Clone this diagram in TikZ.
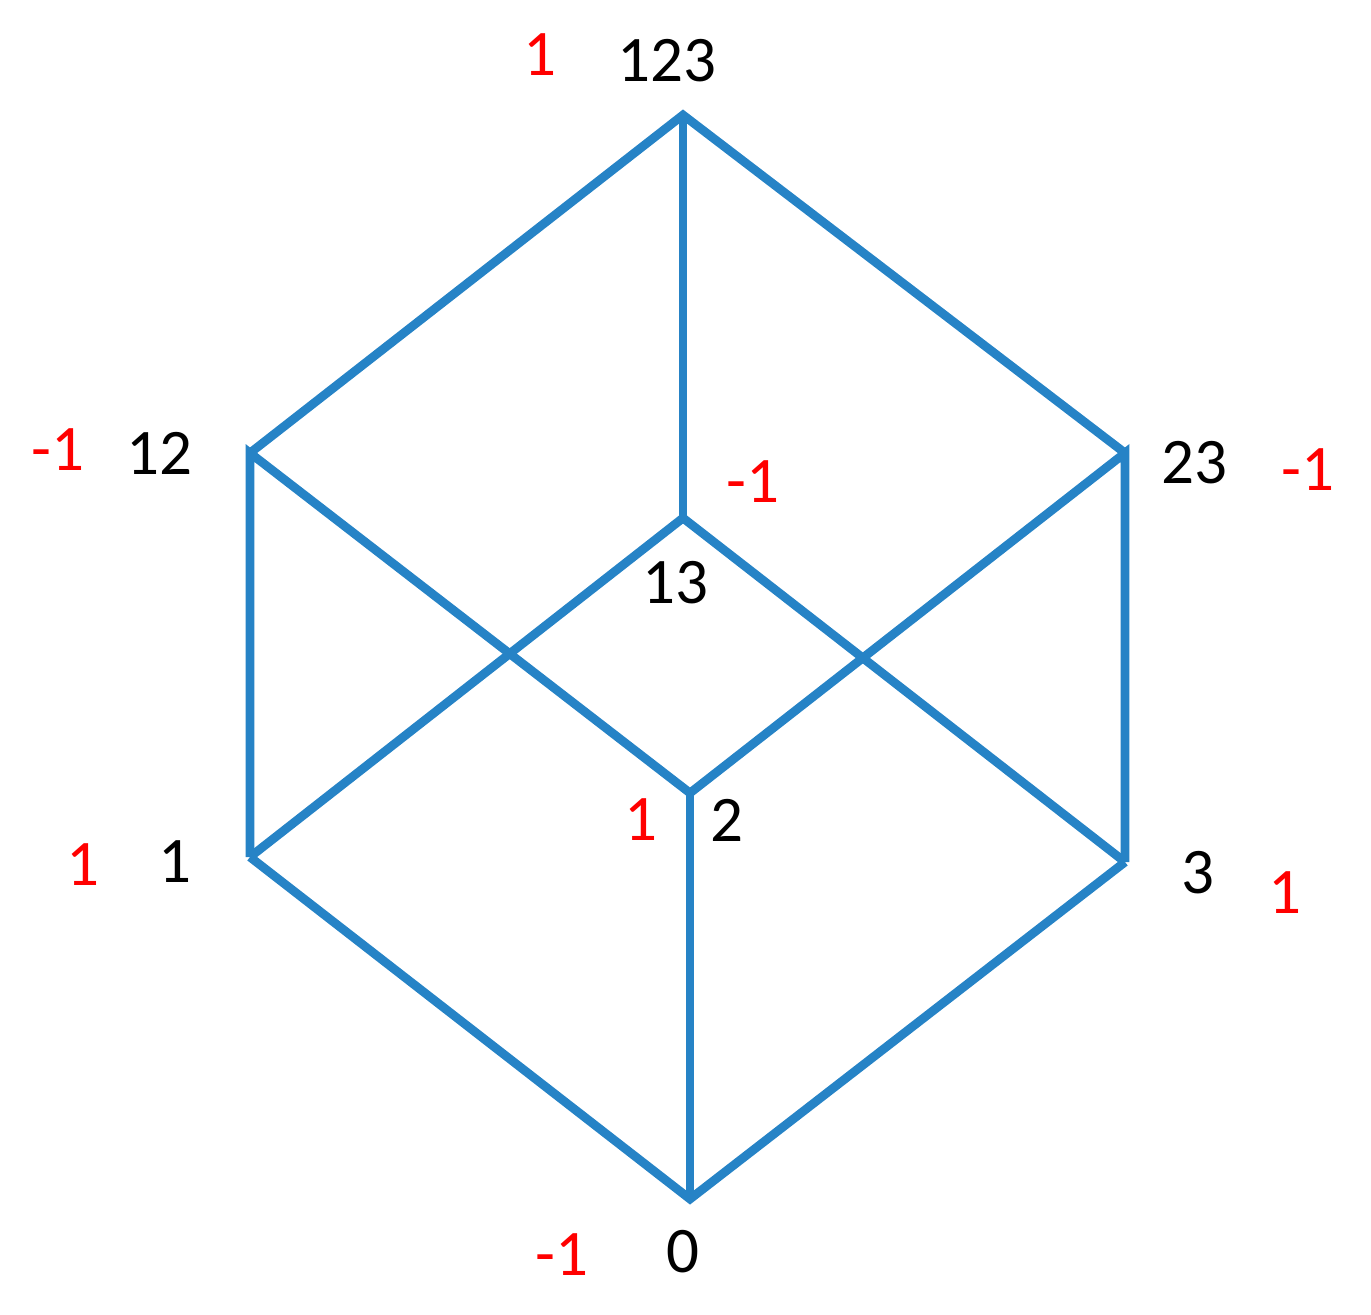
\documentclass[tikz,border=0pt]{standalone}
\usepackage{fontspec}
\setmainfont{Carlito}
\definecolor{edgeblue}{RGB}{38,131,198}
\begin{document}
\begin{tikzpicture}[x=0.02cm,y=-0.02cm,
    every node/.style={inner sep=0pt,font=\fontsize{37}{44}\selectfont},
    wt/.style={text=red}]
        \useasboundingbox (0,0) rectangle (1371,1314);
        % vertices of the cube
        \coordinate (v123) at (683,115);
        \coordinate (v12) at (250,453);
        \coordinate (v23) at (1125,453);
        \coordinate (v13) at (683,518);
        \coordinate (v2) at (690,793);
        \coordinate (v1) at (250,857);
        \coordinate (v3) at (1125,862);
        \coordinate (v0) at (690,1199);
        % edges
        \draw[edgeblue,line width=5pt] (v12) -- (v123) -- (v23);
        \draw[edgeblue,line width=5pt] (v123) -- (v13);
        \draw[edgeblue,line width=5pt] (v1) -- (v12) -- (v2) -- (v23) -- (v3);
        \draw[edgeblue,line width=5pt] (v1) -- (v13) -- (v3);
        \draw[edgeblue,line width=5pt] (v2) -- (v0);
        \draw[edgeblue,line width=5pt] (v1) -- (v0) -- (v3);
        % subset labels
        \node (l123) at (667,61) {123};
        \node (l12) at (159,453) {12};
        \node (l23) at (1194,463) {23};
        \node (l13) at (675,583) {13};
        \node (l2) at (727,820) {2};
        \node (l1) at (175,862) {1};
        \node (l3) at (1198,873) {3};
        \node (l0) at (683,1252) {0};
        % signs
        \node[wt] (w123) at (540,55) {1};
        \node[wt] (w12) at (58,450) {-1};
        \node[wt] (w23) at (1308,470) {-1};
        \node[wt] (w13) at (753,482) {-1};
        \node[wt] (w2) at (641,820) {1};
        \node[wt] (w1) at (83,865) {1};
        \node[wt] (w3) at (1285,893) {1};
        \node[wt] (w0) at (562,1255) {-1};
\end{tikzpicture}
\end{document}
